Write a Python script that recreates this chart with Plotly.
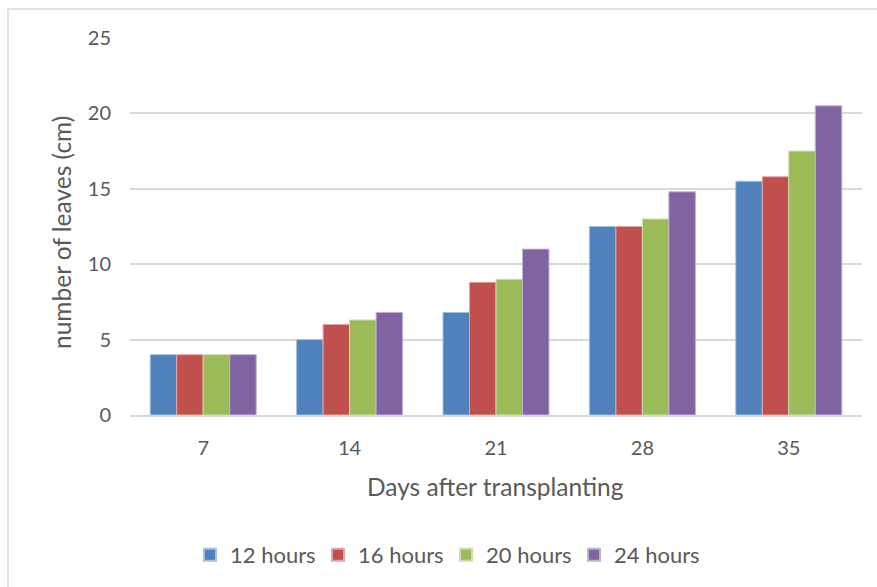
import plotly.graph_objects as go

days = ["7", "14", "21", "28", "35"]
series_names = ["12 hours", "16 hours", "20 hours", "24 hours"]
h12 = [4.0, 5.0, 6.8, 12.5, 15.5]
h16 = [4.0, 6.0, 8.8, 12.5, 15.8]
h20 = [4.0, 6.3, 9.0, 13.0, 17.5]
h24 = [4.0, 6.8, 11.0, 14.8, 20.5]
y_ticks = [0, 5, 10, 15, 20, 25]

colors = ["#4F81BD", "#C0504D", "#9BBB59", "#8064A2"]
outline = ["#A7C0DE", "#DFA8A6", "#CDDDAC", "#BFB1D0"]

W, H = 877, 587
L, R, T, B = 130, 15, 38, 172
pw, ph = W - L - R, H - T - B

def px_x(p):
    return (p - L) / pw

def px_y(p):
    return (H - B - p) / ph

fig = go.Figure()
for name, vals, c, oc in zip(series_names, [h12, h16, h20, h24], colors, outline):
    fig.add_trace(go.Bar(
        x=days, y=vals, name=name,
        marker=dict(color=c, line=dict(color=oc, width=1)),
    ))

font_family = "Lato, 'Open Sans', sans-serif"
fig.update_layout(
    width=W, height=H,
    margin=dict(l=L, r=R, t=T, b=B, autoexpand=False),
    paper_bgcolor="white", plot_bgcolor="white",
    barmode="group", bargap=0.276, bargroupgap=0,
    font=dict(family=font_family, color="#595959", size=20),
    showlegend=True,
    legend=dict(orientation="h", x=px_x(446), xanchor="center",
                y=px_y(555), yanchor="middle",
                font=dict(size=22, color="#595959"),
                itemsizing="constant", traceorder="normal",
                itemwidth=30, entrywidth=83, entrywidthmode="pixels"),
    xaxis=dict(showgrid=False, showline=True, linecolor="#D9D9D9", linewidth=1.5,
               ticks="", tickfont=dict(size=20, color="#595959"),
               ticklabelstandoff=14),
    yaxis=dict(range=[0, 25], tickvals=y_ticks, showgrid=True,
               gridcolor="#D9D9D9", gridwidth=1.5, zeroline=False,
               showline=False, ticks="", tickfont=dict(size=20, color="#595959"),
               ticklabelstandoff=18),
    annotations=[
        dict(text="Days after transplanting", xref="paper", yref="paper",
             x=px_x(495), y=px_y(487), xanchor="center", yanchor="middle",
             showarrow=False, font=dict(size=24.5, color="#595959")),
        dict(text="number of leaves (cm)", xref="paper", yref="paper",
             x=px_x(62), y=px_y(233), xanchor="center", yanchor="middle",
             textangle=-90, showarrow=False, font=dict(size=24.5, color="#595959")),
    ],
    shapes=[
        dict(type="rect", xref="paper", yref="paper",
             x0=px_x(8), y0=px_y(620), x1=px_x(900), y1=px_y(9),
             line=dict(color="#D9D9D9", width=1.5), layer="below"),
    ],
)

fig.write_html("out.html", config={"displayModeBar": False},
               post_script="document.body.style.margin='0';document.body.style.overflow='hidden';")
